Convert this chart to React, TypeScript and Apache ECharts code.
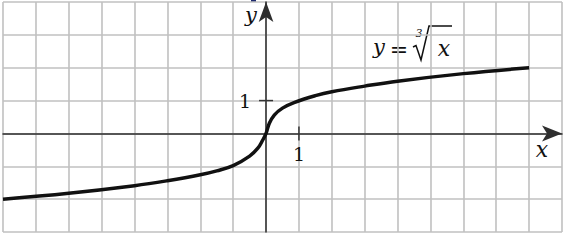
import React, { useEffect, useRef } from "react";
import * as echarts from "echarts";

const curveX = [-8, -6, -4, -3, -2, -1.5, -1, -0.5, -0.25, -0.1, 0, 0.1, 0.25, 0.5, 0.85, 1.5, 2, 3, 4, 6, 8];
const curveY = [-2, -1.82, -1.59, -1.44, -1.26, -1.14, -0.98, -0.69, -0.45, -0.2, 0, 0.31, 0.56, 0.77, 0.94, 1.15, 1.27, 1.44, 1.59, 1.82, 2];

// Axis ticks with labels: [x, y, kind] (kind 0 = x-axis tick, 1 = y-axis tick)
const tickMarks = [
  [1, 0, 0],
  [0, 1, 1],
];
const tickLabels = ["1", "1"];

const xRange = [-8, 9];
const yRange = [-3, 4];

const SERIF = "DejaVu Serif";
const INK = "#111111";

function txt(x: number, y: number, text: string, size: number, italic: boolean) {
  return {
    type: "text",
    x,
    y,
    style: {
      text,
      fill: INK,
      fontFamily: SERIF,
      fontSize: size,
      fontStyle: italic ? "italic" : "normal",
      align: "center",
      verticalAlign: "middle",
    },
  };
}

export default function App() {
  const ref = useRef<HTMLDivElement>(null);

  useEffect(() => {
    if (!ref.current) return;
    const chart = echarts.init(ref.current, undefined, { renderer: "svg" });

    const axisCommon = {
      type: "value" as const,
      interval: 1,
      axisTick: { show: false },
      axisLabel: { show: false },
      splitLine: { show: true, lineStyle: { color: "#c0c0c0", width: 1.6 } },
    };

    chart.setOption({
      animation: false,
      backgroundColor: "#ffffff",
      grid: { left: 3, top: 2, width: 559, height: 230, containLabel: false },
      xAxis: {
        ...axisCommon,
        min: xRange[0],
        max: xRange[1],
        axisLine: {
          show: true,
          onZero: true,
          symbol: ["none", "arrow"],
          symbolSize: [12, 20],
          lineStyle: { color: "#2e2e2e", width: 1.5 },
        },
      },
      yAxis: {
        ...axisCommon,
        min: yRange[0],
        max: yRange[1],
        axisLine: {
          show: true,
          onZero: true,
          symbol: ["none", "arrow"],
          symbolSize: [11, 20],
          lineStyle: { color: "#2e2e2e", width: 1.5 },
        },
      },
      series: [
        {
          type: "line",
          data: curveX.map((x, i) => [x, curveY[i]]),
          showSymbol: false,
          smooth: 0.4,
          lineStyle: { color: "#111111", width: 3.5 },
          z: 5,
        },
        {
          type: "custom",
          data: tickMarks,
          z: 4,
          renderItem: (params: any, api: any) => {
            const p = api.coord([api.value(0), api.value(1)]);
            const kind = api.value(2);
            const label = tickLabels[params.dataIndex];
            if (kind === 0) {
              return {
                type: "group",
                children: [
                  {
                    type: "line",
                    shape: { x1: p[0], y1: p[1] - 7, x2: p[0], y2: p[1] + 7 },
                    style: { stroke: "#333", lineWidth: 1.5 },
                  },
                  txt(p[0], p[1] + 21, label, 19, false),
                ],
              };
            }
            return {
              type: "group",
              children: [
                {
                  type: "line",
                  shape: { x1: p[0] - 7, y1: p[1], x2: p[0] + 7, y2: p[1] },
                  style: { stroke: "#333", lineWidth: 1.5 },
                },
                txt(p[0] - 21, p[1] + 0.5, label, 19, false),
              ],
            };
          },
        },
      ],
      graphic: [
        {
          type: "rect",
          shape: { x: 251, y: 0, width: 5, height: 2 },
          style: { fill: "#1e2a6e" },
        },
        txt(251, 15, "y", 21, true),
        txt(542, 149, "x", 22, true),
        txt(379, 47, "y", 21, true),
        txt(399, 49, "=", 22, false),
        txt(419, 33, "3", 11, true),
        {
          type: "polyline",
          shape: {
            points: [
              [413, 47],
              [416, 45.5],
              [421, 60],
              [429, 26],
              [452, 26],
            ],
          },
          style: { stroke: INK, lineWidth: 1.5, fill: "none" },
        },
        txt(444, 48, "x", 22, true),
      ],
    });

    return () => chart.dispose();
  }, []);

  return (
    <div
      ref={ref}
      style={{ position: "absolute", left: 0, top: 0, width: 567, height: 242 }}
    />
  );
}
